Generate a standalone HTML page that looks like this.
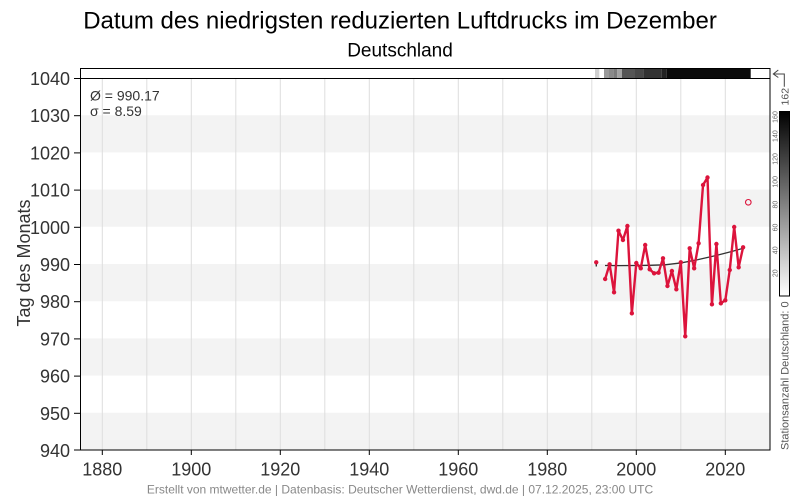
<!DOCTYPE html>
<html><head><meta charset="utf-8"><style>
html,body{margin:0;padding:0;background:#fff;}
svg{display:block;font-family:"Liberation Sans",Arial,sans-serif;}
</style></head><body>
<svg width="800" height="500" viewBox="0 0 800 500" xmlns="http://www.w3.org/2000/svg">
<rect width="800" height="500" fill="#fff"/>
<text x="400" y="28.5" font-size="24" text-anchor="middle" fill="#000">Datum des niedrigsten reduzierten Luftdrucks im Dezember</text>
<text x="400" y="56.5" font-size="19" text-anchor="middle" fill="#000">Deutschland</text>

<!-- bands -->
<g fill="#f3f3f3">
<rect x="80" y="115.2" width="690" height="37.2"/>
<rect x="80" y="189.6" width="690" height="37.2"/>
<rect x="80" y="264" width="690" height="37.2"/>
<rect x="80" y="338.4" width="690" height="37.2"/>
<rect x="80" y="412.8" width="690" height="37.2"/>
</g>
<!-- vertical grid -->
<g stroke="#dedede" stroke-width="1">
<line x1="102.3" y1="78" x2="102.3" y2="450"/>
<line x1="146.8" y1="78" x2="146.8" y2="450"/>
<line x1="191.3" y1="78" x2="191.3" y2="450"/>
<line x1="235.8" y1="78" x2="235.8" y2="450"/>
<line x1="280.3" y1="78" x2="280.3" y2="450"/>
<line x1="324.8" y1="78" x2="324.8" y2="450"/>
<line x1="369.3" y1="78" x2="369.3" y2="450"/>
<line x1="413.8" y1="78" x2="413.8" y2="450"/>
<line x1="458.3" y1="78" x2="458.3" y2="450"/>
<line x1="502.8" y1="78" x2="502.8" y2="450"/>
<line x1="547.3" y1="78" x2="547.3" y2="450"/>
<line x1="591.8" y1="78" x2="591.8" y2="450"/>
<line x1="636.3" y1="78" x2="636.3" y2="450"/>
<line x1="680.8" y1="78" x2="680.8" y2="450"/>
<line x1="725.3" y1="78" x2="725.3" y2="450"/>
</g>

<!-- top station bar -->
<rect x="80.5" y="68.5" width="689.5" height="10" fill="#fff" stroke="#000" stroke-width="1"/>
<g>
<rect x="595" y="69" width="4.3" height="9" fill="#cfcfcf"/>
<rect x="604" y="69" width="5" height="9" fill="#9a9a9a"/>
<rect x="609" y="69" width="4.3" height="9" fill="#8a8a8a"/>
<rect x="613.3" y="69" width="4" height="9" fill="#7c7c7c"/>
<rect x="617.3" y="69" width="4.7" height="9" fill="#a3a3a3"/>
<rect x="622" y="69" width="13" height="9" fill="#555"/>
<rect x="635" y="69" width="8.3" height="9" fill="#484848"/>
<rect x="643.3" y="69" width="18.4" height="9" fill="#333"/>
<rect x="661.7" y="69" width="5" height="9" fill="#222"/>
<rect x="666.7" y="69" width="84" height="9" fill="#0b0b0b"/>
</g>

<!-- frame -->
<rect x="80.5" y="78.5" width="689.5" height="371.5" fill="none" stroke="#000" stroke-width="1"/>

<!-- y ticks -->
<g stroke="#000" stroke-width="1">
<line x1="74" y1="78.5" x2="80" y2="78.5"/>
<line x1="74" y1="115.7" x2="80" y2="115.7"/>
<line x1="74" y1="152.9" x2="80" y2="152.9"/>
<line x1="74" y1="190.1" x2="80" y2="190.1"/>
<line x1="74" y1="227.3" x2="80" y2="227.3"/>
<line x1="74" y1="264.5" x2="80" y2="264.5"/>
<line x1="74" y1="301.7" x2="80" y2="301.7"/>
<line x1="74" y1="338.9" x2="80" y2="338.9"/>
<line x1="74" y1="376.1" x2="80" y2="376.1"/>
<line x1="74" y1="413.3" x2="80" y2="413.3"/>
<line x1="74" y1="450" x2="80" y2="450"/>
</g>
<g font-size="18" fill="#333" text-anchor="end">
<text x="70" y="85">1040</text>
<text x="70" y="122.2">1030</text>
<text x="70" y="159.4">1020</text>
<text x="70" y="196.6">1010</text>
<text x="70" y="233.8">1000</text>
<text x="70" y="271">990</text>
<text x="70" y="308.2">980</text>
<text x="70" y="345.4">970</text>
<text x="70" y="382.6">960</text>
<text x="70" y="419.8">950</text>
<text x="70" y="457">940</text>
</g>
<text transform="translate(30,263) rotate(-90)" font-size="18" fill="#333" text-anchor="middle">Tag des Monats</text>

<!-- x ticks -->
<g stroke="#000" stroke-width="1">
<line x1="102.3" y1="450" x2="102.3" y2="455"/>
<line x1="191.3" y1="450" x2="191.3" y2="455"/>
<line x1="280.3" y1="450" x2="280.3" y2="455"/>
<line x1="369.3" y1="450" x2="369.3" y2="455"/>
<line x1="458.3" y1="450" x2="458.3" y2="455"/>
<line x1="547.3" y1="450" x2="547.3" y2="455"/>
<line x1="636.3" y1="450" x2="636.3" y2="455"/>
<line x1="725.3" y1="450" x2="725.3" y2="455"/>
</g>
<g font-size="18" fill="#333" text-anchor="middle">
<text x="102.3" y="475.5">1880</text>
<text x="191.3" y="475.5">1900</text>
<text x="280.3" y="475.5">1920</text>
<text x="369.3" y="475.5">1940</text>
<text x="458.3" y="475.5">1960</text>
<text x="547.3" y="475.5">1980</text>
<text x="636.3" y="475.5">2000</text>
<text x="725.3" y="475.5">2020</text>
</g>

<!-- stats -->
<text x="90" y="100.5" font-size="14" fill="#333">Ø = 990.17</text>
<text x="90" y="116" font-size="14" fill="#333">σ = 8.59</text>

<!-- trend -->
<polyline fill="none" stroke="#333" stroke-width="1.3" points="605,265.5 620,265.6 636,265.5 650,265.3 665,264.8 681.7,262.8 698,259.6 715,255.8 731.7,251.5 743.3,248.3"/>
<rect x="595.6" y="263.5" width="1.4" height="3" fill="#333"/>

<!-- series -->
<polyline fill="none" stroke="#dc143c" stroke-width="2.4" stroke-linejoin="round" points="605.15,279 609.6,264.3 614.05,292.3 618.5,230.7 622.95,240 627.4,226 631.85,313.3 636.3,263 640.75,268.3 645.2,245 649.65,269.3 654.1,273.3 658.55,272.7 663,258.3 667.45,286 671.9,271 676.35,289.3 680.8,262.3 685.25,336.3 689.7,248.3 694.15,268.3 698.6,243.3 703.05,185 707.5,177.5 711.95,304.3 716.4,244 720.85,303.3 725.3,300.3 729.75,270 734.2,227 738.65,267.3 743.1,247.3"/>
<g fill="#dc143c">
<circle cx="596.25" cy="262.3" r="2.2"/>
<circle cx="605.15" cy="279" r="2.2"/>
<circle cx="609.6" cy="264.3" r="2.2"/>
<circle cx="614.05" cy="292.3" r="2.2"/>
<circle cx="618.5" cy="230.7" r="2.2"/>
<circle cx="622.95" cy="240" r="2.2"/>
<circle cx="627.4" cy="226" r="2.2"/>
<circle cx="631.85" cy="313.3" r="2.2"/>
<circle cx="636.3" cy="263" r="2.2"/>
<circle cx="640.75" cy="268.3" r="2.2"/>
<circle cx="645.2" cy="245" r="2.2"/>
<circle cx="649.65" cy="269.3" r="2.2"/>
<circle cx="654.1" cy="273.3" r="2.2"/>
<circle cx="658.55" cy="272.7" r="2.2"/>
<circle cx="663" cy="258.3" r="2.2"/>
<circle cx="667.45" cy="286" r="2.2"/>
<circle cx="671.9" cy="271" r="2.2"/>
<circle cx="676.35" cy="289.3" r="2.2"/>
<circle cx="680.8" cy="262.3" r="2.2"/>
<circle cx="685.25" cy="336.3" r="2.2"/>
<circle cx="689.7" cy="248.3" r="2.2"/>
<circle cx="694.15" cy="268.3" r="2.2"/>
<circle cx="698.6" cy="243.3" r="2.2"/>
<circle cx="703.05" cy="185" r="2.2"/>
<circle cx="707.5" cy="177.5" r="2.2"/>
<circle cx="711.95" cy="304.3" r="2.2"/>
<circle cx="716.4" cy="244" r="2.2"/>
<circle cx="720.85" cy="303.3" r="2.2"/>
<circle cx="725.3" cy="300.3" r="2.2"/>
<circle cx="729.75" cy="270" r="2.2"/>
<circle cx="734.2" cy="227" r="2.2"/>
<circle cx="738.65" cy="267.3" r="2.2"/>
<circle cx="743.1" cy="247.3" r="2.2"/>
</g>
<circle cx="748.3" cy="202.3" r="2.8" fill="none" stroke="#dc143c" stroke-width="1.1"/>

<!-- right colorbar -->
<defs>
<linearGradient id="cb" x1="0" y1="0" x2="0" y2="1">
<stop offset="0" stop-color="#000"/>
<stop offset="1" stop-color="#fff"/>
</linearGradient>
</defs>
<rect x="779.5" y="111.5" width="10" height="184.5" fill="url(#cb)" stroke="#000" stroke-width="1"/>
<g font-size="7" fill="#666" text-anchor="middle">
<text transform="translate(777.5,117) rotate(-90)">160</text>
<text transform="translate(777.5,136.1) rotate(-90)">140</text>
<text transform="translate(777.5,158.9) rotate(-90)">120</text>
<text transform="translate(777.5,181.8) rotate(-90)">100</text>
<text transform="translate(777.5,204.6) rotate(-90)">80</text>
<text transform="translate(777.5,227.5) rotate(-90)">60</text>
<text transform="translate(777.5,250.3) rotate(-90)">40</text>
<text transform="translate(777.5,273.2) rotate(-90)">20</text>
</g>
<text transform="translate(788.5,450) rotate(-90)" font-size="11" fill="#555">Stationsanzahl Deutschland: 0</text>
<text transform="translate(788.5,96.7) rotate(-90)" font-size="10.5" fill="#555" text-anchor="middle">162</text>
<!-- arrow -->
<polyline fill="none" stroke="#444" stroke-width="1" points="778.3,70 773.3,74 778.3,77.5"/>
<polyline fill="none" stroke="#444" stroke-width="1" points="773.5,74 784.3,74 784.3,86.7"/>

<text x="400" y="493.5" font-size="12" fill="#888" text-anchor="middle">Erstellt von mtwetter.de | Datenbasis: Deutscher Wetterdienst, dwd.de | 07.12.2025, 23:00 UTC</text>
</svg>
</body></html>
